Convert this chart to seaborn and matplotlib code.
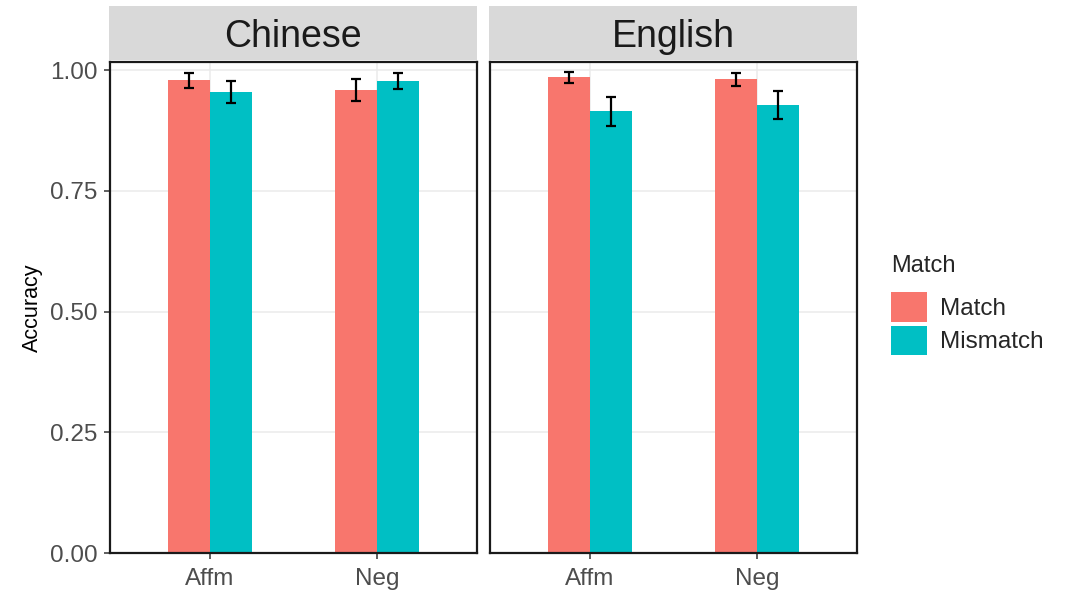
import numpy as np
import pandas as pd
import seaborn as sns
import matplotlib.pyplot as plt
from matplotlib.patches import Patch

# values
languages = ['Chinese', 'English']
polarity = ['Affm', 'Neg']
match_levels = ['Match', 'Mismatch']

chinese_match = [0.979, 0.959]
chinese_mismatch = [0.955, 0.978]
english_match = [0.985, 0.981]
english_mismatch = [0.915, 0.928]

# half-widths of the error bars
chinese_match_err = [0.015, 0.022]
chinese_mismatch_err = [0.022, 0.016]
english_match_err = [0.012, 0.013]
english_mismatch_err = [0.030, 0.029]

rows = []
for lang, m_vals, mm_vals, m_err, mm_err in [
        ('Chinese', chinese_match, chinese_mismatch, chinese_match_err, chinese_mismatch_err),
        ('English', english_match, english_mismatch, english_match_err, english_mismatch_err)]:
    for i, p in enumerate(polarity):
        rows.append([lang, p, 'Match', m_vals[i], m_err[i]])
        rows.append([lang, p, 'Mismatch', mm_vals[i], mm_err[i]])
df = pd.DataFrame(rows, columns=['Language', 'Polarity', 'Match', 'Accuracy', 'err'])

colors = {'Match': '#F8766D', 'Mismatch': '#00BFC4'}

sns.set_theme(style="white")
plt.rcParams['font.family'] = ['Liberation Sans', 'DejaVu Sans']

W, H = 1071, 590
fig = plt.figure(figsize=(W / 100, H / 100), dpi=100)

panel_left = [110, 490]
panel_w = 367
panel_top, panel_bottom = 62, 553
strip_top, strip_bottom = 6, 60

for k, lang in enumerate(languages):
    x0 = panel_left[k]
    ax = fig.add_axes([x0 / W, 1 - panel_bottom / H, panel_w / W, (panel_bottom - panel_top) / H])
    sub = df[df['Language'] == lang]
    sns.barplot(data=sub, x='Polarity', y='Accuracy', hue='Match', order=polarity,
                hue_order=match_levels, palette=colors, width=0.5, saturation=1,
                errorbar=None, legend=False, linewidth=0, ax=ax, zorder=2)
    # error bars at the bar centres
    for lvl, cont in zip(match_levels, ax.containers):
        s = sub[sub['Match'] == lvl].set_index('Polarity').loc[polarity]
        xs = [b.get_x() + b.get_width() / 2 for b in cont]
        ax.errorbar(xs, s['Accuracy'], yerr=s['err'], fmt='none', ecolor='black',
                    elinewidth=1.6, capsize=3.5, capthick=1.6, zorder=3)

    ax.set_xlim(-0.6, 1.6)
    ax.set_ylim(0, 1.017)
    ax.set_yticks([0, 0.25, 0.5, 0.75, 1.0])
    ax.grid(True, which='major', color='#EBEBEB', linewidth=1.1, zorder=0)
    ax.set_axisbelow(True)
    for sp in ax.spines.values():
        sp.set_color('#1A1A1A')
        sp.set_linewidth(1.6)
    ax.tick_params(axis='both', which='major', length=4, width=1.1, color='#333333',
                   labelcolor='#4D4D4D', labelsize=17.5, direction='out',
                   bottom=True, left=True)
    ax.tick_params(axis='x', pad=7)
    ax.tick_params(axis='y', pad=5)
    ax.set_xlabel('')
    if k == 0:
        ax.set_yticklabels(['0.00', '0.25', '0.50', '0.75', '1.00'])
        ax.set_ylabel('Accuracy', fontsize=15.5, color='black', labelpad=5)
    else:
        ax.set_yticklabels([])
        ax.tick_params(axis='y', left=False)
        ax.set_ylabel('')

    # facet strip
    sax = fig.add_axes([(x0 - 1) / W, 1 - strip_bottom / H, (panel_w + 1) / W,
                        (strip_bottom - strip_top) / H])
    sax.set_facecolor('#D9D9D9')
    sax.set_xticks([])
    sax.set_yticks([])
    for sp in sax.spines.values():
        sp.set_visible(False)
    sax.text(0.5, 0.42, lang, ha='center', va='center', fontsize=27,
             color='#1A1A1A', transform=sax.transAxes)

handles = [Patch(facecolor=colors[m], edgecolor='none', label=m) for m in match_levels]
leg = fig.legend(handles=handles, title='Match', loc='upper left',
                 bbox_to_anchor=(891 / W, 1 - 255 / H), frameon=False,
                 fontsize=17.5, title_fontsize=17, handlelength=1.5, handleheight=1.5,
                 handletextpad=0.5, labelspacing=0.15, borderpad=0, borderaxespad=0)
leg._legend_box.align = 'left'
leg._legend_box.sep = 11

fig.savefig('out.png', dpi=100, facecolor='white')
